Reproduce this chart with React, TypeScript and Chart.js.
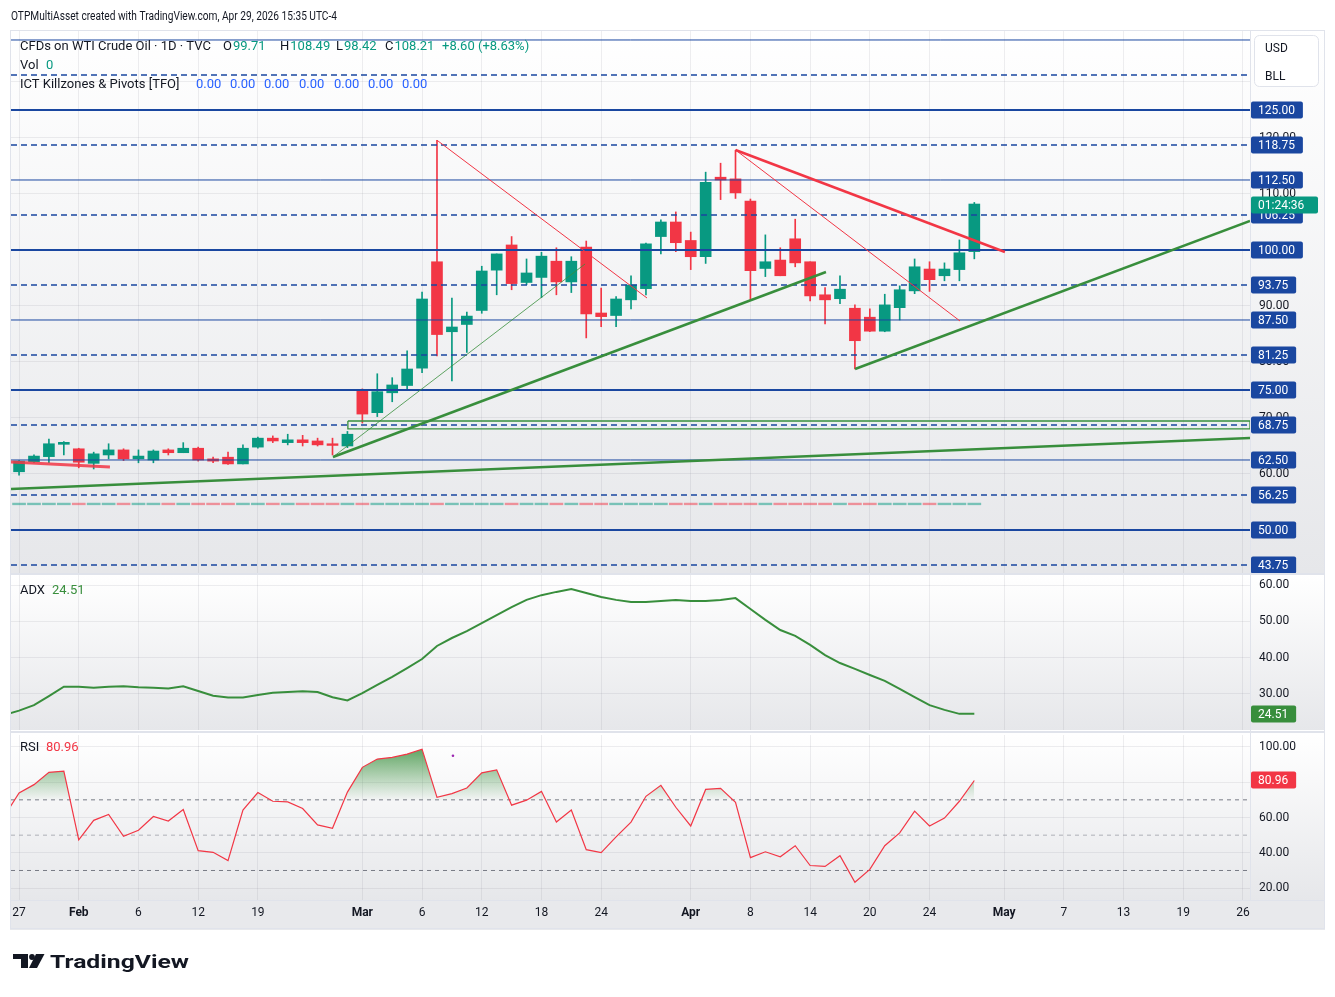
import React, { useEffect, useRef } from "react";
import { Chart, registerables } from "chart.js";

Chart.register(...registerables);

const FONT = "Roboto, 'Noto Sans', 'DejaVu Sans', sans-serif";
const UP = "#089981";
const DOWN = "#f23645";
const LVL = "#1a47a0";
const GREEN = "#388e3c";
const TEXT = "#131722";
const GRID = "rgba(120,126,142,0.13)";

// ---- time axis (bar index 0 = 27 Jan 2026, trading days) ----
const tickIndex = [0, 4, 8, 12, 16, 23, 27, 31, 35, 39, 45, 49, 53, 57, 61, 66, 70, 74, 78, 82];
const tickLabels = ["27", "Feb", "6", "12", "19", "Mar", "6", "12", "18", "24", "Apr", "8", "14", "20", "24", "May", "7", "13", "19", "26"];
const monthLabels = ["Feb", "Mar", "Apr", "May"];

// ---- OHLC ----
const opens = [60.4, 62.2, 63.1, 65.3, 64.5, 61.9, 63.4, 64.3, 62.7, 62.5, 64.3, 63.8, 64.6, 62.7, 63.0, 61.8, 64.8, 66.4, 65.6, 66.1, 65.9, 65.4, 65.0, 74.8, 70.95, 74.5, 75.8, 78.9, 97.9, 85.4, 86.7, 89.2, 96.4, 100.9, 94.2, 95.1, 98.0, 94.3, 100.5, 88.75, 88.3, 91.1, 93.1, 102.4, 105.0, 101.7, 98.8, 113.0, 112.7, 108.75, 96.7, 98.2, 102.0, 97.9, 92.0, 91.3, 89.6, 88.0, 85.5, 89.7, 92.7, 96.6, 95.4, 96.5, 99.71];
const highs = [62.4, 63.4, 66.25, 65.8, 64.6, 63.9, 65.4, 64.5, 64.3, 64.3, 64.5, 65.6, 64.8, 63.0, 63.9, 65.2, 66.6, 66.8, 67.1, 66.9, 66.4, 66.4, 67.6, 75.2, 77.9, 77.2, 82.0, 92.5, 119.6, 91.4, 88.9, 97.1, 99.3, 102.4, 98.4, 99.6, 100.4, 98.8, 101.6, 93.2, 91.7, 95.4, 101.25, 105.4, 106.8, 103.2, 113.9, 115.5, 117.8, 109.1, 102.7, 100.4, 105.5, 97.9, 93.3, 95.4, 90.2, 89.5, 92.1, 93.6, 98.4, 97.9, 97.7, 101.8, 108.49];
const lows = [59.8, 62.0, 62.0, 63.4, 61.1, 60.9, 62.7, 62.4, 62.0, 62.0, 63.4, 63.8, 62.3, 62.0, 61.7, 61.8, 64.6, 65.6, 65.2, 65.0, 65.0, 63.4, 64.7, 69.1, 70.25, 72.9, 74.9, 78.1, 81.1, 76.6, 81.7, 88.7, 92.0, 92.9, 93.8, 91.5, 92.0, 92.4, 84.3, 86.3, 86.3, 89.5, 92.0, 99.3, 99.7, 96.5, 97.6, 109.0, 109.2, 90.95, 95.25, 95.4, 97.0, 90.9, 86.8, 90.4, 78.75, 85.4, 85.4, 87.5, 92.2, 92.6, 94.5, 94.5, 98.42];
const closes = [62.3, 63.2, 65.4, 65.65, 62.1, 63.6, 64.3, 62.7, 63.2, 64.1, 63.8, 64.6, 62.5, 62.3, 61.8, 64.6, 66.4, 65.9, 66.1, 65.6, 65.2, 65.1, 67.1, 70.7, 74.7, 75.9, 78.75, 91.25, 84.9, 86.25, 88.2, 96.25, 99.3, 94.0, 95.9, 98.9, 94.3, 98.0, 88.6, 88.1, 91.25, 93.75, 101.1, 105.0, 101.3, 98.8, 112.1, 112.5, 110.2, 96.3, 97.9, 95.4, 97.7, 91.8, 91.1, 93.0, 83.8, 85.5, 90.2, 92.9, 97.0, 94.7, 96.6, 99.5, 108.21];

// ---- ICT Killzones & Pivots levels ----
const levelsThick = [125, 100, 75, 50];
const levelsThin = [137.5, 112.5, 87.5, 62.5];
const levelsDashed = [131.25, 118.75, 106.25, 93.75, 81.25, 68.75, 56.25, 43.75];
const levelLabels = [125, 118.75, 112.5, 106.25, 100, 93.75, 87.5, 81.25, 75, 68.75, 62.5, 56.25, 50, 43.75];
const ictLine = 54.65;
const lastPrice = 108.21;

// ---- drawings: [barIndex, price] anchors ----
const redThin1 = [[28, 119.6], [42.07, 91.43]];
const redThin2 = [[48, 117.86], [63.04, 87.32]];
const redThick = [[48, 117.86], [66.05, 99.64]];
const redShort = [[-0.54, 62.14], [6.09, 61.25]];
const greenLong = [[-0.54, 57.32], [82.47, 66.43]];
const greenMid = [[21.03, 63.04], [54.06, 96.07]];
const greenThin = [[21.03, 63.04], [37.92, 97.5]];
const greenLow = [[56.01, 78.75], [82.47, 105.2]];
const greenBox = [[22.03, 69.46], [82.47, 69.46], [82.47, 68.04], [22.03, 68.04], [22.03, 69.46]];

// ---- indicators (first value is bar index -1) ----
const adxValues = [24.2, 25.4, 26.9, 29.4, 32.0, 32.0, 31.7, 32.0, 32.1, 31.8, 31.7, 31.5, 32.1, 30.8, 29.5, 29.0, 29.0, 29.7, 30.3, 30.5, 30.7, 30.5, 29.1, 28.2, 30.2, 32.5, 34.7, 37.1, 39.6, 43.2, 45.4, 47.3, 49.5, 51.7, 53.9, 55.9, 57.2, 58.1, 58.9, 57.8, 56.7, 55.9, 55.3, 55.3, 55.6, 55.9, 55.6, 55.6, 55.9, 56.4, 53.4, 50.4, 47.6, 46.0, 43.5, 40.7, 38.5, 36.9, 35.2, 33.6, 31.4, 29.1, 26.9, 25.6, 24.5, 24.51];
const rsiValues = [60.6, 73.9, 78.6, 85.6, 86.2, 47.4, 58.4, 61.7, 49.4, 52.8, 60.6, 58.0, 64.5, 41.2, 40.3, 35.6, 64.2, 74.1, 69.2, 68.8, 65.1, 55.8, 53.9, 74.4, 88.4, 93.1, 94.0, 95.9, 98.7, 71.4, 73.5, 76.7, 85.3, 87.0, 67.0, 69.8, 74.8, 57.4, 64.2, 41.8, 40.1, 49.0, 57.4, 72.0, 78.2, 65.8, 55.2, 75.9, 76.5, 68.6, 37.3, 40.6, 37.8, 44.0, 32.8, 32.3, 38.4, 23.3, 30.6, 44.0, 51.3, 63.6, 55.2, 59.7, 69.2, 80.96];
const rsiLevels = [70, 50, 30];
const rsiMarker = [29.07, 95.0];

const X_MIN = -0.54;
const X_MAX = 82.47;

function labelAt(v: number) {
  const k = tickIndex.indexOf(Math.round(v));
  return k >= 0 ? tickLabels[k] : "";
}

function xScale(show: boolean): any {
  return {
    type: "linear",
    min: X_MIN,
    max: X_MAX,
    offset: false,
    afterBuildTicks: (s: any) => {
      s.ticks = tickIndex.map((v) => ({ value: v }));
    },
    afterFit: (s: any) => {
      s.height = show ? 28 : 0;
      s.paddingLeft = 0;
      s.paddingRight = 0;
    },
    grid: { color: GRID, drawTicks: false, offset: false },
    border: { display: false },
    ticks: {
      display: show,
      autoSkip: false,
      maxRotation: 0,
      padding: 6,
      color: TEXT,
      font: (c: any) => ({
        family: FONT,
        size: 12,
        weight: monthLabels.includes(labelAt(c.tick ? c.tick.value : -99)) ? "bold" : "normal",
      }),
      callback: (v: any) => labelAt(Number(v)),
    },
  };
}

function yScale(min: number, max: number, step: number): any {
  return {
    type: "linear",
    position: "right",
    min,
    max,
    beginAtZero: false,
    afterFit: (s: any) => {
      s.width = 85;
      s.paddingTop = 0;
      s.paddingBottom = 0;
    },
    grid: { color: GRID, drawTicks: false },
    border: { display: false },
    ticks: {
      stepSize: step,
      includeBounds: false,
      padding: 9,
      color: TEXT,
      font: { family: FONT, size: 12 },
      callback: (v: any) => Number(v).toFixed(2),
    },
  };
}

function seg(points: number[][], color: string, width: number, dash: number[] = [], order = 0): any {
  return {
    type: "line",
    data: points.map(([x, y]) => ({ x, y })),
    borderColor: color,
    borderWidth: width,
    borderDash: dash,
    pointRadius: 0,
    fill: false,
    tension: 0,
    order,
  };
}

function bgPlugin(bandBottom?: number): any {
  return {
    id: "bg",
    beforeDraw(chart: any) {
      const { ctx, chartArea: a } = chart;
      ctx.save();
      const g = ctx.createLinearGradient(0, a.top, 0, a.bottom);
      g.addColorStop(0, "#ffffff");
      g.addColorStop(1, "#e6e7ea");
      ctx.fillStyle = g;
      ctx.fillRect(10, a.top, 1315, a.bottom - a.top);
      if (bandBottom) {
        ctx.fillStyle = "#e8e9ec";
        ctx.fillRect(10, a.bottom, 1315, bandBottom - a.bottom);
      }
      ctx.restore();
    },
  };
}

function box(ctx: CanvasRenderingContext2D, text: string, y: number, color: string, minW = 0) {
  ctx.font = `12px ${FONT}`;
  const w = Math.max(minW, ctx.measureText(text).width + 15);
  ctx.fillStyle = color;
  ctx.beginPath();
  (ctx as any).roundRect(1251, Math.round(y) - 8.5, w, 17, 2);
  ctx.fill();
  ctx.fillStyle = "#ffffff";
  ctx.textBaseline = "middle";
  ctx.textAlign = "left";
  ctx.fillText(text, 1258, Math.round(y) + 0.5);
}

type Part = [string, string];
function drawGroup(ctx: CanvasRenderingContext2D, x: number, y: number, parts: Part[], gap = 1) {
  let cx = x;
  for (const [t, c] of parts) {
    ctx.fillStyle = c;
    ctx.fillText(t, cx, y);
    cx += ctx.measureText(t).width + gap;
  }
}

const headerText = "OTPMultiAsset created with TradingView.com, Apr 29, 2026 15:35 UTC-4";

const mainOverlay: any = {
  id: "mainOverlay",
  afterDraw(chart: any) {
    const ctx: CanvasRenderingContext2D = chart.ctx;
    const ys = chart.scales.y;
    const a = chart.chartArea;
    ctx.save();
    ctx.textBaseline = "middle";
    ctx.textAlign = "left";
    ctx.font = `12px ${FONT}`;
    ctx.fillStyle = TEXT;
    ctx.fillText(headerText, 11, 17, 326);

    ctx.font = `13px ${FONT}`;
    drawGroup(ctx, 20, 47, [["CFDs on WTI Crude Oil · 1D · TVC", TEXT]]);
    drawGroup(ctx, 223, 47, [["O", TEXT], ["99.71", UP]]);
    drawGroup(ctx, 280, 47, [["H", TEXT], ["108.49", UP]]);
    drawGroup(ctx, 336, 47, [["L", TEXT], ["98.42", UP]]);
    drawGroup(ctx, 385, 47, [["C", TEXT], ["108.21", UP]]);
    drawGroup(ctx, 442, 47, [["+8.60 (+8.63%)", UP]]);
    drawGroup(ctx, 20, 66, [["Vol", TEXT]]);
    drawGroup(ctx, 46, 66, [["0", UP]]);
    drawGroup(ctx, 20, 85, [["ICT Killzones & Pivots [TFO]", TEXT]]);
    [196, 230, 264, 299, 334, 368, 402].forEach((x) => drawGroup(ctx, x, 85, [["0.00", "#2962ff"]]));

    // USD / BLL
    ctx.fillStyle = "#ffffff";
    ctx.strokeStyle = "#e0e3eb";
    ctx.lineWidth = 1;
    ctx.beginPath();
    (ctx as any).roundRect(1254.5, 35.5, 64, 51, 5);
    ctx.fill();
    ctx.stroke();
    ctx.fillStyle = TEXT;
    ctx.font = `12px ${FONT}`;
    ctx.fillText("USD", 1265, 49);
    ctx.fillText("BLL", 1265, 77);

    // level labels
    ctx.beginPath();
    ctx.rect(1250, a.top, 85, a.bottom - a.top);
    ctx.clip();
    levelLabels.forEach((v) => box(ctx, v.toFixed(2), ys.getPixelForValue(v), LVL));
    box(ctx, "01:24:36", ys.getPixelForValue(lastPrice) + 1, UP, 67);
    ctx.restore();
  },
};

function mainConfig(): any {
  const idx = opens.map((_, i) => i);
  const colors = idx.map((i) => (closes[i] >= opens[i] ? UP : DOWN));
  const ictColors = idx.map((i) => (closes[i] >= opens[i] ? "rgba(8,153,129,0.5)" : "rgba(242,54,69,0.5)"));
  const datasets: any[] = [
    {
      type: "bar",
      data: idx.map((i) => ({ x: i, y: [ictLine - 0.15, ictLine + 0.15] })),
      backgroundColor: ictColors,
      barThickness: 13,
      grouped: false,
      order: 6,
    },
    {
      type: "bar",
      data: idx.map((i) => ({ x: i, y: [lows[i], highs[i]] })),
      backgroundColor: colors,
      barThickness: 1,
      grouped: false,
      order: 5,
    },
    {
      type: "bar",
      data: idx.map((i) => ({ x: i, y: [opens[i], closes[i]] })),
      backgroundColor: colors,
      barThickness: 11,
      minBarLength: 1,
      grouped: false,
      order: 4,
    },
  ];
  levelsThick.forEach((v) => datasets.push(seg([[X_MIN, v], [X_MAX, v]], LVL, 2, [], 3)));
  levelsThin.forEach((v) => datasets.push(seg([[X_MIN, v], [X_MAX, v]], LVL, 1, [], 3)));
  levelsDashed.forEach((v) => datasets.push(seg([[X_MIN, v], [X_MAX, v]], LVL, 1.3, [6, 4], 3)));
  datasets.push(seg(greenBox, GREEN, 1.3, [], 2));
  datasets.push(seg(greenLong, GREEN, 2.5, [], 1));
  datasets.push(seg(greenMid, GREEN, 2.5, [], 1));
  datasets.push(seg(greenThin, "rgba(56,142,60,0.8)", 1, [], 1));
  datasets.push(seg(greenLow, GREEN, 2.5, [], 1));
  datasets.push(seg(redThin1, DOWN, 1, [], 1));
  datasets.push(seg(redThin2, DOWN, 1, [], 1));
  datasets.push(seg(redThick, DOWN, 2.5, [], 1));
  datasets.push(seg(redShort, "rgba(242,54,69,0.85)", 3, [], 1));

  return {
    type: "bar",
    data: { datasets },
    options: {
      responsive: false,
      animation: false,
      devicePixelRatio: 1,
      events: [],
      layout: { padding: { left: 11, right: 0, top: 31, bottom: 1 } },
      plugins: { legend: { display: false }, tooltip: { enabled: false } },
      scales: { x: xScale(false), y: yScale(42.32, 139.107, 10) },
    },
    plugins: [bgPlugin(), mainOverlay],
  };
}

function adxConfig(): any {
  const overlay = {
    id: "adxOverlay",
    afterDraw(chart: any) {
      const ctx: CanvasRenderingContext2D = chart.ctx;
      ctx.save();
      ctx.textBaseline = "middle";
      ctx.font = `13px ${FONT}`;
      drawGroup(ctx, 20, 16.5, [["ADX", TEXT]]);
      drawGroup(ctx, 52, 16.5, [["24.51", GREEN]]);
      box(ctx, adxValues[adxValues.length - 1].toFixed(2), chart.scales.y.getPixelForValue(adxValues[adxValues.length - 1]), GREEN);
      ctx.restore();
    },
  };
  return {
    type: "line",
    data: {
      datasets: [seg(adxValues.map((v, k) => [k - 1, v]), GREEN, 2, [], 1)],
    },
    options: {
      responsive: false,
      animation: false,
      devicePixelRatio: 1,
      events: [],
      layout: { padding: { left: 11, right: 0, top: 1, bottom: 1 } },
      plugins: { legend: { display: false }, tooltip: { enabled: false } },
      scales: { x: xScale(false), y: yScale(20.055, 62.755, 10) },
    },
    plugins: [bgPlugin(), overlay],
  };
}

function rsiConfig(canvas: HTMLCanvasElement): any {
  const c2d = canvas.getContext("2d")!;
  const yMin = 13.29;
  const yMax = 106.71;
  const top = 2;
  const h = 167;
  const py = (v: number) => top + ((yMax - v) / (yMax - yMin)) * h;
  const grad = c2d.createLinearGradient(0, py(100), 0, py(70));
  grad.addColorStop(0, "rgba(56,142,60,0.85)");
  grad.addColorStop(1, "rgba(56,142,60,0.03)");

  const overlay = {
    id: "rsiOverlay",
    afterDraw(chart: any) {
      const ctx: CanvasRenderingContext2D = chart.ctx;
      ctx.save();
      ctx.textBaseline = "middle";
      ctx.font = `13px ${FONT}`;
      drawGroup(ctx, 20, 17, [["RSI", TEXT]]);
      drawGroup(ctx, 46, 17, [["80.96", DOWN]]);
      const last = rsiValues[rsiValues.length - 1];
      box(ctx, last.toFixed(2), chart.scales.y.getPixelForValue(last), DOWN);

      // TradingView logo
      const oy = -731;
      ctx.fillStyle = TEXT;
      ctx.fillRect(13, 954 + oy, 15, 5);
      ctx.fillRect(21, 954 + oy, 7, 14);
      ctx.beginPath();
      ctx.arc(32, 957 + oy, 2.9, 0, Math.PI * 2);
      ctx.fill();
      ctx.beginPath();
      ctx.moveTo(36, 954 + oy);
      ctx.lineTo(44.5, 954 + oy);
      ctx.lineTo(37, 968 + oy);
      ctx.lineTo(29, 968 + oy);
      ctx.closePath();
      ctx.fill();
      ctx.font = `bold 18px ${FONT}`;
      ctx.textBaseline = "alphabetic";
      const tw = ctx.measureText("TradingView").width;
      ctx.translate(50, 968 + oy);
      ctx.scale(139 / tw, 1);
      ctx.fillText("TradingView", 0, 0);
      ctx.restore();
    },
  };

  const datasets: any[] = [
    {
      type: "line",
      data: rsiValues.map((v, k) => ({ x: k - 1, y: v })),
      borderColor: DOWN,
      borderWidth: 1.2,
      pointRadius: 0,
      tension: 0,
      fill: { target: { value: 70 }, above: grad, below: "rgba(0,0,0,0)" },
      order: 1,
    },
    {
      type: "line",
      data: [{ x: rsiMarker[0], y: rsiMarker[1] }],
      showLine: false,
      pointRadius: 1.3,
      pointBackgroundColor: "#9c27b0",
      pointBorderWidth: 0,
      order: 0,
    },
  ];
  rsiLevels.forEach((v) =>
    datasets.push(seg([[X_MIN, v], [X_MAX, v]], v === 50 ? "rgba(120,123,134,0.55)" : "#787b86", 1, [4, 4], 2))
  );

  return {
    type: "line",
    data: { datasets },
    options: {
      responsive: false,
      animation: false,
      devicePixelRatio: 1,
      events: [],
      layout: { padding: { left: 11, right: 0, top: 2, bottom: 69 } },
      plugins: { legend: { display: false }, tooltip: { enabled: false } },
      scales: { x: xScale(true), y: yScale(yMin, yMax, 20) },
    },
    plugins: [bgPlugin(169 + 28 + 2), overlay],
  };
}

export default function App() {
  const mainRef = useRef<HTMLCanvasElement>(null);
  const adxRef = useRef<HTMLCanvasElement>(null);
  const rsiRef = useRef<HTMLCanvasElement>(null);

  useEffect(() => {
    const charts = [
      new Chart(mainRef.current!, mainConfig()),
      new Chart(adxRef.current!, adxConfig()),
      new Chart(rsiRef.current!, rsiConfig(rsiRef.current!)),
    ];
    return () => charts.forEach((c) => c.destroy());
  }, []);

  const abs = (l: number, t: number, w: number, h: number, extra: any = {}) => ({
    position: "absolute" as const,
    left: l,
    top: t,
    width: w,
    height: h,
    ...extra,
  });

  return (
    <div style={abs(0, 0, 1335, 997, { background: "#ffffff", overflow: "hidden" })}>
      <canvas ref={mainRef} width={1335} height={574} style={abs(0, 0, 1335, 574)} />
      <canvas ref={adxRef} width={1335} height={157} style={abs(0, 574, 1335, 157)} />
      <canvas ref={rsiRef} width={1335} height={266} style={abs(0, 731, 1335, 266)} />
      <div style={abs(10, 573, 1315, 2, { background: "#e0e3eb", pointerEvents: "none" })} />
      <div style={abs(10, 731, 1315, 2, { background: "#e0e3eb", pointerEvents: "none" })} />
      <div style={abs(1250, 31, 1, 869, { background: "#e0e3eb", pointerEvents: "none" })} />
      <div style={abs(10, 900, 1315, 1, { background: "#e0e3eb", pointerEvents: "none" })} />
      <div
        style={abs(10, 30, 1315, 899, {
          border: "1px solid #e0e3eb",
          boxSizing: "border-box",
          pointerEvents: "none",
        })}
      />
    </div>
  );
}
